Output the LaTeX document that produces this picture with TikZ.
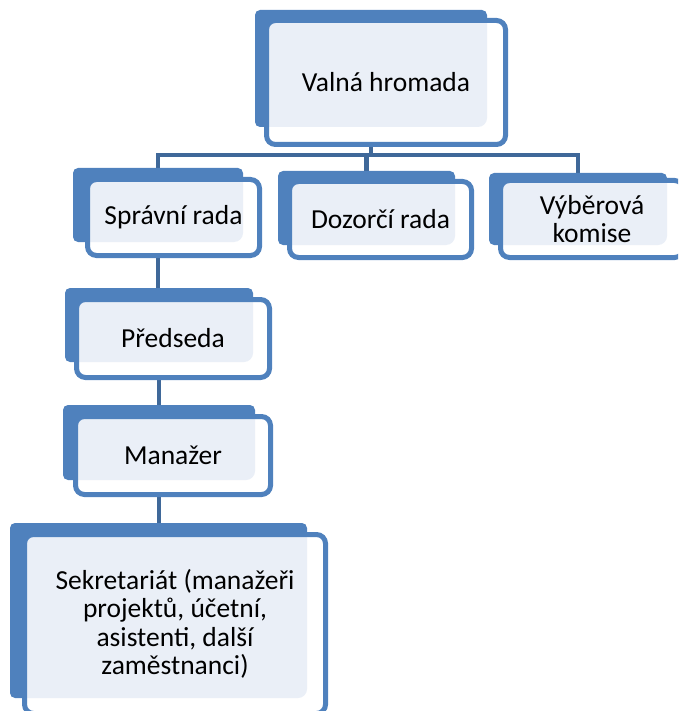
\documentclass[tikz,border=0pt]{standalone}
\usepackage{fontspec}
\setmainfont{Carlito}
\usetikzlibrary{backgrounds}
\definecolor{accent}{HTML}{4F81BD}
\definecolor{conncol}{HTML}{3F6899}
\definecolor{pale}{HTML}{EAEFF7}
\tikzset{
  backbox/.style={fill=accent, rounded corners=5pt, inner sep=0pt, outer sep=0pt},
  frontnode/.style={draw=accent, line width=5pt, fill=white, rounded corners=9pt,
    inner sep=0pt, outer sep=0pt, align=center, font=\fontsize{27.5}{28.4}\selectfont},
  patfrom/.style={path picture={\fill[pale] (#1.south west) rectangle (#1.north east);}},
  conn/.style={draw=conncol, line width=4.5pt}
}
\newcommand\bbox[5]{\node[backbox, minimum width={#4-#2}, minimum height={#5-#3}] (#1) at ({(#2+#4)/2},{(#3+#5)/2}) {};}
\newcommand\frontbox[7]{\node[frontnode, patfrom=#2, minimum width={#5-#3-5}, minimum height={#6-#4-5}] (#1) at ({(#3+#5)/2},{(#4+#6)/2}) {#7};}
\begin{document}
\begin{tikzpicture}[x=1pt,y=-1pt]
\useasboundingbox (0,0) rectangle (678,711);
\clip (0,0) rectangle (678,711);
% Valna hromada
\bbox{vhb}{255}{10}{487}{127}
\frontbox{vh}{vhb}{264}{18}{508}{147}{Valná hromada}
% Spravni rada
\bbox{srb}{73}{168}{243}{242}
\frontbox{sr}{srb}{85}{177}{262}{258}{Správní rada}
% Dozorci rada
\bbox{drb}{278}{171}{455}{245}
\frontbox{dr}{drb}{287}{179}{474}{260}{Dozorčí rada}
% Vyberova komise
\bbox{vkb}{489}{173}{667}{245}
\frontbox{vk}{vkb}{498}{178}{686}{260}{Výběrová\\komise}
% Predseda
\bbox{prb}{65}{288}{253}{362}
\frontbox{pr}{prb}{74}{297}{272}{380}{Předseda}
% Manazer
\bbox{mab}{63}{405}{255}{480}
\frontbox{ma}{mab}{73}{414}{273}{497}{Manažer}
% Sekretariat
\bbox{seb}{10}{523}{307}{698}
\frontbox{se}{seb}{22}{532}{328}{716}{Sekretariát (manažeři\\projektů, účetní,\\asistenti, další\\zaměstnanci)}
\begin{scope}[on background layer]
\draw[conn] (vhb.south) -- ++(0,28) coordinate (bus);
\draw[conn] (srb.north) |- (bus) -| (vkb.north);
\draw[conn] (drb.north) -- (drb.north |- bus);
\draw[conn] (srb.south) -- (srb.south |- prb.north);
\draw[conn] (prb.south) -- (prb.south |- mab.north);
\draw[conn] (mab.south) -- (mab.south |- seb.north);
\end{scope}
\end{tikzpicture}
\end{document}
